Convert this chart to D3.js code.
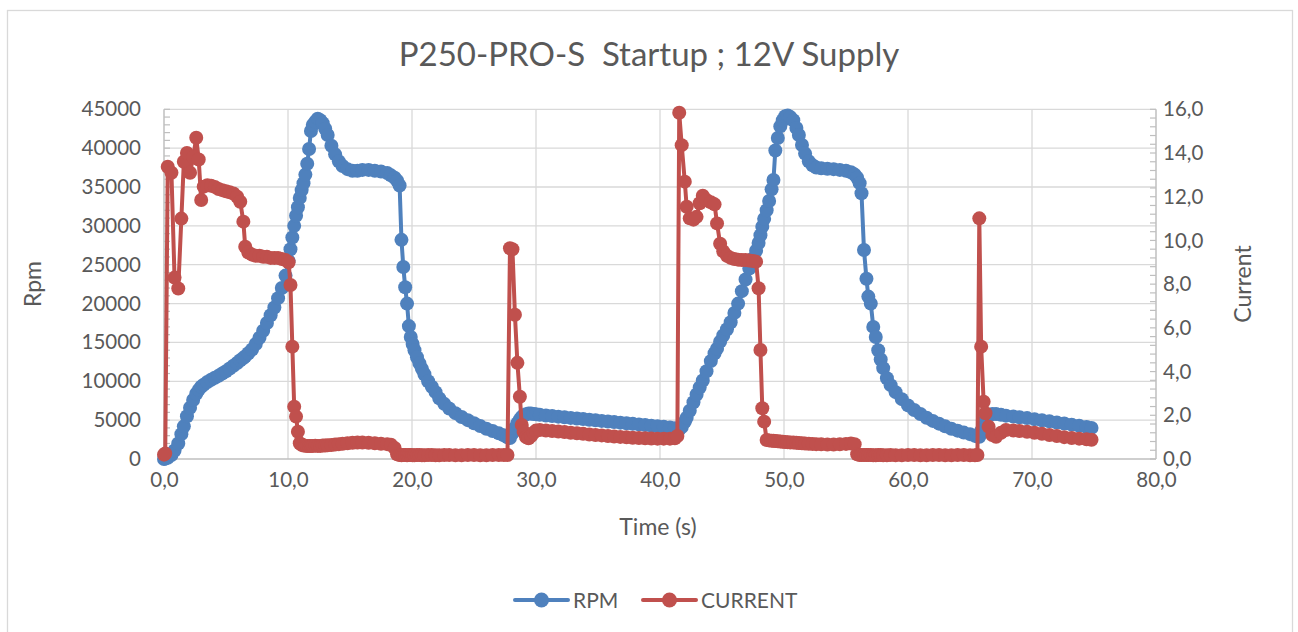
<html>
<head>
<meta charset="utf-8">
<script src="https://d3js.org/d3.v7.min.js"></script>
<style>
  body { margin: 0; background: #fff; font-family: Lato, "Open Sans", sans-serif; }
  .grid line { stroke: #d9d9d9; stroke-width: 1.3px; }
  .axis text { fill: #595959; font-size: 20.5px; font-family: Lato, sans-serif; }
  .axis path, .axis line { display: none; }
  .series { fill: none; stroke-width: 4px; stroke-linejoin: round; stroke-linecap: round; }
</style>
</head>
<body>
<script>

// time (s) of each sample, shared by both series
var time = [
  0.0, 0.1, 0.3, 0.6, 0.85, 1.15, 1.4, 1.6, 1.85, 2.1, 2.35, 2.6, 2.8, 3.0, 3.2,
  3.5, 3.8, 4.1, 4.4, 4.7, 5.0, 5.3, 5.6, 5.9, 6.15, 6.4, 6.55, 6.8, 7.1, 7.4, 7.7, 8.0, 8.3, 8.6, 8.9, 9.2, 9.5, 9.8, 10.05,
  10.2, 10.35, 10.5, 10.65, 10.8, 10.95, 11.1, 11.25, 11.4, 11.55, 11.7, 11.85, 12.0, 12.2, 12.4, 12.6, 12.8, 13.0,
  13.2, 13.5, 13.8, 14.1, 14.4, 14.8, 15.2, 15.6, 16.0, 16.5, 17.0, 17.5, 18.0, 18.3, 18.6, 18.8, 19.0,
  19.15, 19.3, 19.45, 19.6, 19.75, 19.9, 20.05, 20.2, 20.4, 20.6, 20.8, 21.0, 21.3, 21.6, 21.9, 22.2, 22.6, 23.0, 23.5, 24.0, 24.5, 25.0, 25.5, 26.0, 26.5, 27.0, 27.4, 27.7,
  27.9, 28.1, 28.3, 28.5, 28.7, 28.85, 29.0, 29.2, 29.4, 29.6, 29.8, 30.0, 30.3,
  30.8, 31.3, 31.8, 32.3, 32.8, 33.3, 33.8, 34.3, 34.8, 35.3, 35.8, 36.3, 36.8, 37.3, 37.8, 38.3, 38.8, 39.3, 39.8, 40.3, 40.8, 41.2,
  41.4, 41.55, 41.75, 42.0, 42.15, 42.4, 42.7, 42.95, 43.2, 43.45, 43.75, 44.1, 44.4, 44.6, 44.85, 45.1, 45.4, 45.7, 46.0, 46.3, 46.6, 46.9, 47.2, 47.5, 47.75, 47.95, 48.1, 48.25, 48.4, 48.6,
  48.8, 49.0, 49.15, 49.3, 49.5, 49.7, 49.9, 50.1, 50.3, 50.5, 50.75, 51.0, 51.2, 51.45, 51.7, 52.0, 52.3,
  52.6, 53.0, 53.5, 54.0, 54.5, 55.0, 55.4, 55.7, 55.9, 56.1, 56.25, 56.45, 56.65, 56.8, 57.0, 57.2, 57.4, 57.6, 57.8, 58.0, 58.3,
  58.6, 59.0, 59.5, 60.0, 60.5, 61.0, 61.5, 62.0, 62.5, 63.0, 63.5, 64.0, 64.5, 65.0, 65.4, 65.6,
  65.75, 65.9, 66.1, 66.25, 66.5, 66.8, 67.1, 67.5, 67.9, 68.5, 69.0, 69.6, 70.2, 70.8, 71.4, 72.0, 72.6, 73.2, 73.8, 74.4, 74.8
];

var rpm = [
  0, 50, 150, 500, 1100, 2000, 3200, 4200, 5500, 6600, 7600, 8400, 8900, 9300, 9550,
  9900, 10200, 10450, 10700, 11000, 11300, 11650, 12000, 12350, 12700, 13000, 13200, 13600, 14100, 14800, 15600, 16500, 17500, 18500, 19500, 20700, 22000, 23600, 25500,
  27000, 28500, 30000, 31300, 32400, 33600, 34600, 35500, 36600, 38000, 39900, 42200, 43000, 43400, 43800, 43600, 43200, 42500,
  41700, 40300, 39200, 38300, 37700, 37300, 37100, 37100, 37200, 37200, 37100, 37000, 36800, 36500, 36200, 35800, 35200,
  28200, 24700, 22100, 20000, 17100, 15700, 14800, 14000, 13100, 12300, 11600, 10900, 10000, 9300, 8600, 7800, 7100, 6500, 5900, 5400, 5000, 4600, 4250, 3900, 3600, 3300, 3050, 2800,
  2700, 3300, 4000, 4600, 5100, 5400, 5600, 5750, 5850, 5850, 5800, 5750, 5700,
  5600, 5530, 5450, 5380, 5290, 5220, 5140, 5060, 4990, 4900, 4830, 4750, 4680, 4600, 4520, 4450, 4370, 4290, 4220, 4140, 4050, 3960,
  3850, 3800, 4100, 4800, 5300, 6200, 7300, 8300, 9200, 10100, 11300, 12600, 13600, 14200, 15100, 15900, 16700, 17600, 18800, 20000, 21600, 23100, 24500, 25800, 26800, 27800, 28800, 29900, 30900, 32000,
  33200, 34700, 35900, 39700, 41300, 42800, 43600, 44100, 44200, 44000, 43600, 42600, 41700, 40400, 39300, 38300, 37800,
  37500, 37400, 37350, 37300, 37200, 37100, 36900, 36600, 36200, 35500, 34200, 26900, 23200, 20900, 20000, 17000, 15700, 14000, 12800, 11700, 10400,
  9500, 8600, 7700, 6900, 6300, 5800, 5300, 4900, 4550, 4200, 3900, 3650, 3400, 3200, 3000, 2900,
  2850, 3600, 4500, 5100, 5550, 5800, 5780, 5680, 5580, 5470, 5370, 5260, 5130, 4990, 4850, 4700, 4560, 4420, 4280, 4120, 4000
];

var current = [
  0.2, 0.25, 13.37, 13.1, 8.3, 7.8, 11.0, 13.6, 14.0, 13.1, 13.8, 14.7, 13.7, 11.85, 12.46,
  12.53, 12.5, 12.45, 12.35, 12.3, 12.25, 12.2, 12.15, 12.0, 11.77, 10.86, 9.71, 9.45, 9.35, 9.3, 9.3, 9.25, 9.25, 9.2, 9.2, 9.2, 9.15, 9.1, 9.0,
  7.96, 5.14, 2.39, 1.94, 1.25, 0.72, 0.65, 0.62, 0.61, 0.6, 0.59, 0.6, 0.6, 0.61, 0.6, 0.6, 0.62, 0.62,
  0.63, 0.64, 0.66, 0.68, 0.7, 0.72, 0.74, 0.75, 0.75, 0.74, 0.72, 0.7, 0.68, 0.65, 0.5, 0.22, 0.18,
  0.17, 0.18, 0.18, 0.17, 0.18, 0.18, 0.17, 0.17, 0.18, 0.18, 0.17, 0.17, 0.18, 0.18, 0.17, 0.17, 0.18, 0.18, 0.17, 0.17, 0.18, 0.18, 0.17, 0.17, 0.18, 0.18, 0.18, 0.18,
  9.64, 9.6, 6.6, 4.4, 2.85, 1.56, 1.25, 1.0, 0.95, 1.05, 1.2, 1.3, 1.33,
  1.3, 1.28, 1.26, 1.23, 1.2, 1.18, 1.15, 1.12, 1.1, 1.08, 1.05, 1.03, 1.01, 0.99, 0.97, 0.96, 0.95, 0.94, 0.93, 0.93, 0.93, 0.95,
  1.05, 15.84, 14.36, 12.69, 11.54, 11.01, 10.95, 11.08, 11.7, 12.05, 11.85, 11.75, 11.65, 10.78, 9.85, 9.5, 9.3, 9.2, 9.15, 9.12, 9.1, 9.1, 9.08, 9.06, 9.03, 7.81, 4.99, 2.32, 1.71, 0.87,
  0.85, 0.84, 0.83, 0.82, 0.81, 0.8, 0.79, 0.78, 0.77, 0.76, 0.75, 0.74, 0.73, 0.72, 0.71, 0.7, 0.69,
  0.68, 0.67, 0.66, 0.66, 0.67, 0.69, 0.71, 0.68, 0.22, 0.18, 0.18, 0.18, 0.18, 0.18, 0.18, 0.17, 0.17, 0.18, 0.18, 0.17, 0.17,
  0.18, 0.17, 0.17, 0.18, 0.18, 0.17, 0.17, 0.18, 0.18, 0.17, 0.17, 0.18, 0.18, 0.17, 0.17, 0.18,
  11.01, 5.14, 2.62, 2.09, 1.48, 1.1, 1.02, 1.2, 1.33, 1.3, 1.28, 1.25, 1.2, 1.15, 1.1, 1.05, 1.0, 0.96, 0.93, 0.9, 0.88
];

var timeTicks = [0, 10, 20, 30, 40, 50, 60, 70, 80];
var timeLabels = ["0,0", "10,0", "20,0", "30,0", "40,0", "50,0", "60,0", "70,0", "80,0"];
var rpmTicks = [0, 5000, 10000, 15000, 20000, 25000, 30000, 35000, 40000, 45000];
var currentTicks = [0, 2, 4, 6, 8, 10, 12, 14, 16];
var currentLabels = ["0,0", "2,0", "4,0", "6,0", "8,0", "10,0", "12,0", "14,0", "16,0"];
var seriesNames = ["RPM", "CURRENT"];
var colors = ["#4F81BD", "#C0504D"];

var W = 1298, H = 632;
var plotLeft = 164, plotRight = 1156, plotTop = 109.3, plotBottom = 459;
var markerR = 7;

var data = time.map(function(t, i) { return {t: t, rpm: rpm[i], cur: current[i]}; });

var x = d3.scaleLinear().domain([0, 80]).range([plotLeft, plotRight]);
var yL = d3.scaleLinear().domain([0, 45000]).range([plotBottom, plotTop]);
var yR = d3.scaleLinear().domain([0, 16]).range([plotBottom, plotTop]);

var svg = d3.select("body").append("svg")
    .attr("width", W)
    .attr("height", H);

// chart frame
svg.append("rect")
    .attr("x", 7.5).attr("y", 10.5)
    .attr("width", 1285).attr("height", 640)
    .attr("fill", "#fff")
    .attr("stroke", "#d9d9d9")
    .attr("stroke-width", 1.3);

// gridlines
var grid = svg.append("g").attr("class", "grid");
grid.selectAll(".h").data(rpmTicks.slice(1)).enter().append("line")
    .attr("x1", plotLeft).attr("x2", plotRight)
    .attr("y1", function(d) { return yL(d); })
    .attr("y2", function(d) { return yL(d); });
grid.selectAll(".v").data(timeTicks.slice(1, -1)).enter().append("line")
    .attr("y1", plotTop).attr("y2", plotBottom)
    .attr("x1", function(d) { return x(d); })
    .attr("x2", function(d) { return x(d); });

// axis lines and minor ticks
var axisColor = "#bfbfbf";
svg.append("line").attr("x1", plotLeft).attr("x2", plotLeft).attr("y1", plotTop).attr("y2", plotBottom)
    .attr("stroke", axisColor).attr("stroke-width", 1.5);
svg.append("line").attr("x1", plotRight).attr("x2", plotRight).attr("y1", plotTop).attr("y2", plotBottom)
    .attr("stroke", axisColor).attr("stroke-width", 1.5);
svg.append("line").attr("x1", plotLeft).attr("x2", plotRight).attr("y1", plotBottom).attr("y2", plotBottom)
    .attr("stroke", axisColor).attr("stroke-width", 1.5);

svg.append("g").selectAll("line").data(d3.range(0, 45001, 1000)).enter().append("line")
    .attr("x1", plotLeft).attr("x2", plotLeft + 6)
    .attr("y1", function(d) { return yL(d); })
    .attr("y2", function(d) { return yL(d); })
    .attr("stroke", axisColor).attr("stroke-width", 1.2);
svg.append("g").selectAll("line").data(d3.range(0, 41, 1)).enter().append("line")
    .attr("x1", plotRight - 6).attr("x2", plotRight)
    .attr("y1", function(d) { return yR(d * 0.4); })
    .attr("y2", function(d) { return yR(d * 0.4); })
    .attr("stroke", axisColor).attr("stroke-width", 1.2);

// axes (labels only)
svg.append("g").attr("class", "axis")
    .attr("transform", "translate(" + plotLeft + ",0)")
    .call(d3.axisLeft(yL).tickValues(rpmTicks).tickSize(0).tickPadding(23).tickFormat(d3.format("d")));
svg.append("g").attr("class", "axis")
    .attr("transform", "translate(" + plotRight + ",0)")
    .call(d3.axisRight(yR).tickValues(currentTicks).tickSize(0).tickPadding(7)
      .tickFormat(function(d, i) { return currentLabels[i]; }));
svg.append("g").attr("class", "axis")
    .attr("transform", "translate(0," + plotBottom + ")")
    .call(d3.axisBottom(x).tickValues(timeTicks).tickSize(0).tickPadding(13)
      .tickFormat(function(d, i) { return timeLabels[i]; }));

// titles
svg.append("text")
    .attr("x", 649).attr("y", 66)
    .attr("text-anchor", "middle")
    .style("white-space", "pre")
    .style("font-size", "33px").style("fill", "#595959")
    .text("P250-PRO-S  Startup ; 12V Supply");

svg.append("text")
    .attr("x", 658).attr("y", 535)
    .attr("text-anchor", "middle")
    .style("font-size", "23px").style("fill", "#595959")
    .text("Time (s)");

svg.append("text")
    .attr("transform", "translate(41,284) rotate(-90)")
    .attr("text-anchor", "middle")
    .style("font-size", "23px").style("fill", "#595959")
    .text("Rpm");

svg.append("text")
    .attr("transform", "translate(1251,284) rotate(-90)")
    .attr("text-anchor", "middle")
    .style("font-size", "23px").style("fill", "#595959")
    .text("Current");

// series
var rpmLine = d3.line()
    .x(function(d) { return x(d.t); })
    .y(function(d) { return yL(d.rpm); });
var curLine = d3.line()
    .x(function(d) { return x(d.t); })
    .y(function(d) { return yR(d.cur); });

svg.append("path").datum(data).attr("class", "series")
    .attr("stroke", colors[0]).attr("d", rpmLine);
svg.append("g").selectAll("circle").data(data).enter().append("circle")
    .attr("cx", function(d) { return x(d.t); })
    .attr("cy", function(d) { return yL(d.rpm); })
    .attr("r", markerR)
    .attr("fill", colors[0]);

svg.append("path").datum(data).attr("class", "series")
    .attr("stroke", colors[1]).attr("d", curLine);
svg.append("g").selectAll("circle").data(data).enter().append("circle")
    .attr("cx", function(d) { return x(d.t); })
    .attr("cy", function(d) { return yR(d.cur); })
    .attr("r", markerR)
    .attr("fill", colors[1]);

// legend
var legendX = [515, 643];
var legend = svg.append("g").selectAll("g").data(seriesNames).enter().append("g")
    .attr("transform", function(d, i) { return "translate(" + legendX[i] + ",600)"; });
legend.append("line")
    .attr("x1", 0).attr("x2", 53)
    .attr("stroke", function(d, i) { return colors[i]; })
    .attr("stroke-width", 4).attr("stroke-linecap", "round");
legend.append("circle")
    .attr("cx", 26.5).attr("r", 7.5)
    .attr("fill", function(d, i) { return colors[i]; });
legend.append("text")
    .attr("x", 58).attr("y", 7.5)
    .style("font-size", "21px").style("fill", "#595959")
    .text(function(d) { return d; });

</script>
</body>
</html>
